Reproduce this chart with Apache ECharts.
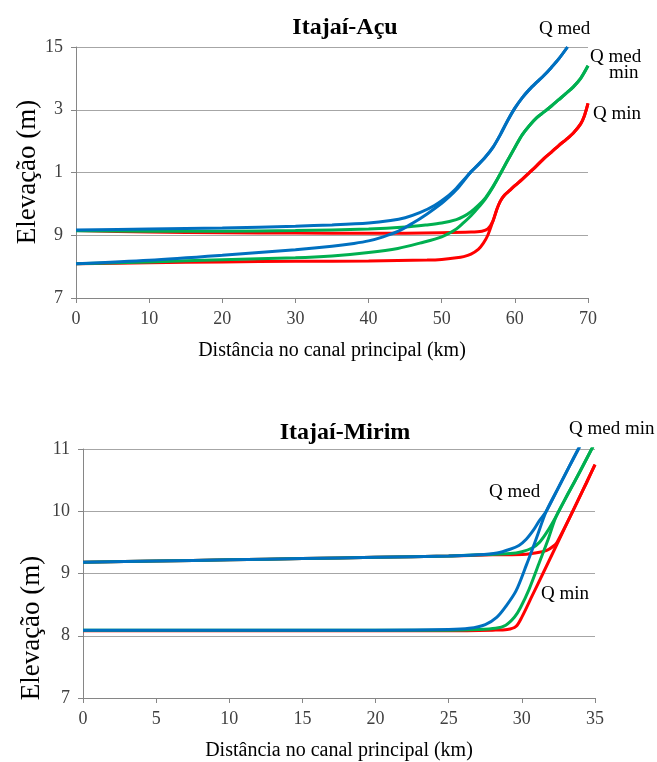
<!DOCTYPE html>
<html>
<head>
<meta charset="utf-8">
<script src="https://cdn.jsdelivr.net/npm/echarts@6/dist/echarts.min.js"></script>
<style>
html,body{margin:0;padding:0;background:#fff;}
#chart{width:657px;height:762px;}
</style>
</head>
<body>
<div id="chart"></div>
<script>
// ---------- Itajaí-Açu (km, elevation m) ----------
const acuQmedHigh = [[0,9.17],[10,9.2],[20,9.23],[30,9.29],[35,9.33],[40,9.39],[43,9.47],[45,9.56],[47,9.72],[49,9.95],[51,10.28],[52,10.5],[53,10.76],[54,11.02],[55,11.25],[56,11.5],[57,11.8],[58,12.2],[59,12.65],[60,13.05],[61,13.38],[62,13.65],[63,13.88],[64,14.1],[65,14.35],[66,14.62],[67.2,15.0]];
const acuQmedLow  = [[0,8.09],[10,8.2],[20,8.36],[30,8.54],[35,8.65],[38,8.74],[40,8.82],[42,8.95],[44,9.12],[46,9.38],[48,9.68],[50,10.02],[51,10.22],[52,10.45],[53,10.73],[54,11.02],[55,11.25],[56,11.5],[57,11.8],[58,12.2],[59,12.65],[60,13.05],[61,13.38],[62,13.65],[63,13.88],[64,14.1],[65,14.35],[66,14.62],[67.2,15.0]];
const acuQmedMinHigh = [[0,9.14],[10,9.13],[20,9.13],[30,9.15],[40,9.2],[45,9.26],[48,9.33],[50,9.39],[52,9.5],[53,9.6],[54,9.75],[55,9.95],[56,10.2],[57,10.55],[58,10.95],[59,11.38],[60,11.8],[61,12.2],[62,12.5],[63,12.75],[64,12.93],[65,13.12],[66,13.32],[67,13.52],[68,13.73],[69,14.0],[70,14.4]];
const acuQmedMinLow  = [[0,8.09],[10,8.15],[20,8.22],[30,8.28],[35,8.34],[40,8.45],[44,8.58],[47,8.75],[50,8.95],[52,9.2],[53,9.4],[54,9.62],[55,9.88],[56,10.17],[57,10.53],[58,10.95],[59,11.38],[60,11.8],[61,12.2],[62,12.5],[63,12.75],[64,12.93],[65,13.12],[66,13.32],[67,13.52],[68,13.73],[69,14.0],[70,14.4]];
const acuQminHigh = [[0,9.15],[10,9.1],[20,9.08],[30,9.07],[40,9.06],[50,9.08],[54,9.1],[55.5,9.13],[56.3,9.2],[57,9.45],[57.5,9.8],[58,10.08],[58.6,10.28],[59.3,10.43],[60,10.58],[61,10.78],[62,11.0],[63,11.22],[64,11.45],[65,11.65],[66,11.86],[67,12.05],[68,12.26],[69,12.55],[69.5,12.8],[70,13.2]];
const acuQminLow  = [[0,8.09],[10,8.12],[20,8.15],[30,8.17],[40,8.18],[48,8.21],[50,8.23],[52,8.28],[53,8.32],[54,8.4],[55,8.55],[55.7,8.75],[56.3,9.0],[57,9.45],[57.5,9.8],[58,10.08],[58.6,10.28],[59.3,10.43],[60,10.58],[61,10.78],[62,11.0],[63,11.22],[64,11.45],[65,11.65],[66,11.86],[67,12.05],[68,12.26],[69,12.55],[69.5,12.8],[70,13.2]];

// ---------- Itajaí-Mirim (km, elevation m) ----------
const mirQmedHigh = [[0,9.18],[5,9.2],[10,9.22],[15,9.24],[20,9.26],[25,9.28],[27,9.3],[28.3,9.33],[29.2,9.39],[29.8,9.45],[30.3,9.55],[30.8,9.7],[31.2,9.85],[31.67,10.0],[32.5,10.38],[33.2,10.7],[33.95,11.04]];
const mirQmedLow  = [[0,8.09],[10,8.09],[20,8.09],[25,8.1],[26.4,8.12],[27.5,8.18],[28.3,8.3],[28.9,8.47],[29.6,8.72],[30.3,9.13],[31,9.57],[31.67,10.0],[32.5,10.38],[33.2,10.7],[33.95,11.04]];
const mirQmedMinHigh = [[0,9.18],[5,9.2],[10,9.22],[15,9.24],[20,9.26],[25,9.28],[27,9.3],[29.2,9.32],[30,9.35],[30.7,9.41],[31.2,9.5],[31.7,9.66],[32.35,9.92],[33.2,10.3],[34.0,10.65],[34.86,11.04]];
const mirQmedMinLow  = [[0,8.09],[10,8.09],[20,8.09],[25,8.09],[27,8.1],[28.2,8.12],[28.9,8.17],[29.5,8.3],[29.9,8.45],[30.5,8.75],[31.2,9.18],[31.8,9.55],[32.35,9.92],[33.2,10.3],[34.0,10.65],[34.86,11.04]];
const mirQminHigh = [[0,9.18],[5,9.2],[10,9.22],[15,9.24],[20,9.26],[25,9.28],[28,9.3],[30.3,9.31],[31.2,9.34],[31.7,9.37],[32.1,9.43],[32.4,9.5],[33.5,10.01],[34.4,10.45],[35,10.75]];
const mirQminLow  = [[0,8.08],[10,8.08],[20,8.08],[25,8.08],[28,8.09],[29,8.1],[29.6,8.15],[30,8.3],[30.7,8.64],[31.4,8.98],[32.4,9.47],[33.5,10.01],[34.4,10.45],[35,10.75]];

// ---------- tick labels ----------
const acuYTicks = [7, 9, 11, 13, 15];
const acuYTickLabels = ['7', '9', '1', '3', '15'];
const mirYTicks = [7, 8, 9, 10, 11];
const mirYTickLabels = ['7', '8', '9', '10', '11'];

const C_BLUE = '#0070C0', C_GREEN = '#00B050', C_RED = '#FF0000';
const SERIF = '"Liberation Serif", "DejaVu Serif", serif';

function yFmt(ticks, labels) {
  return function (v) {
    const i = ticks.indexOf(v);
    return i >= 0 ? labels[i] : '';
  };
}

function mkX(gi, max, interval) {
  return {
    type: 'value', gridIndex: gi, min: 0, max: max, interval: interval,
    name: 'Distância no canal principal (km)', nameLocation: 'middle', nameGap: 43,
    nameTextStyle: { fontFamily: SERIF, fontSize: 20, color: '#000' },
    axisLine: { show: true, lineStyle: { color: '#868686', width: 1 } },
    axisTick: { show: true, length: 5, lineStyle: { color: '#868686' } },
    axisLabel: { fontFamily: SERIF, fontSize: 18, color: '#404040', margin: 12 },
    splitLine: { show: false }
  };
}
function mkY(gi, min, max, interval, ticks, labels) {
  return {
    type: 'value', gridIndex: gi, min: min, max: max, interval: interval,
    axisLine: { show: true, lineStyle: { color: '#868686', width: 1 } },
    axisTick: { show: true, length: 5, lineStyle: { color: '#868686' } },
    axisLabel: { fontFamily: SERIF, fontSize: 18, color: '#404040', margin: 13, formatter: yFmt(ticks, labels) },
    splitLine: { show: true, lineStyle: { color: '#A6A6A6', width: 1 } }
  };
}
function mkS(data, color, xi) {
  return {
    type: 'line', data: data, xAxisIndex: xi, yAxisIndex: xi,
    showSymbol: false, symbol: 'none', smooth: 0.3,
    lineStyle: { color: color, width: 3 }, itemStyle: { color: color },
    clip: true, silent: true, animation: false
  };
}
function lbl(text, left, top) {
  return { type: 'text', left: left, top: top, style: { text: text, font: '19px ' + SERIF, fill: '#000' } };
}
function yName(x, y) {
  return { type: 'text', x: x, y: y, rotation: Math.PI / 2,
    style: { text: 'Elevação (m)', font: '27px ' + SERIF, fill: '#000', align: 'center', verticalAlign: 'middle' } };
}

const chart = echarts.init(document.getElementById('chart'), null, { renderer: 'canvas' });
chart.setOption({
  backgroundColor: '#fff',
  animation: false,
  title: [
    { text: 'Itajaí-Açu', left: 340, top: 11, textAlign: 'center',
      textStyle: { fontFamily: SERIF, fontSize: 24, fontWeight: 'bold', color: '#000' } },
    { text: 'Itajaí-Mirim', left: 340, top: 416, textAlign: 'center',
      textStyle: { fontFamily: SERIF, fontSize: 24, fontWeight: 'bold', color: '#000' } }
  ],
  grid: [
    { left: 76, top: 47, width: 512, height: 251 },
    { left: 83, top: 449, width: 512, height: 251 }
  ],
  xAxis: [mkX(0, 70, 10), mkX(1, 35, 5)],
  yAxis: [mkY(0, 7, 15, 2, acuYTicks, acuYTickLabels), mkY(1, 7, 11, 1, mirYTicks, mirYTickLabels)],
  series: [
    mkS(acuQminHigh, C_RED, 0), mkS(acuQminLow, C_RED, 0),
    mkS(acuQmedMinHigh, C_GREEN, 0), mkS(acuQmedMinLow, C_GREEN, 0),
    mkS(acuQmedHigh, C_BLUE, 0), mkS(acuQmedLow, C_BLUE, 0),
    mkS(mirQminHigh, C_RED, 1), mkS(mirQminLow, C_RED, 1),
    mkS(mirQmedMinHigh, C_GREEN, 1), mkS(mirQmedMinLow, C_GREEN, 1),
    mkS(mirQmedHigh, C_BLUE, 1), mkS(mirQmedLow, C_BLUE, 1)
  ],
  graphic: [
    yName(28, 172),
    yName(32, 628),
    lbl('Q med', 539, 20),
    lbl('Q med', 590, 48),
    lbl('min', 609, 64),
    lbl('Q min', 593, 105),
    lbl('Q med min', 569, 420),
    lbl('Q med', 489, 483),
    lbl('Q min', 541, 585)
  ]
});
</script>
</body>
</html>
